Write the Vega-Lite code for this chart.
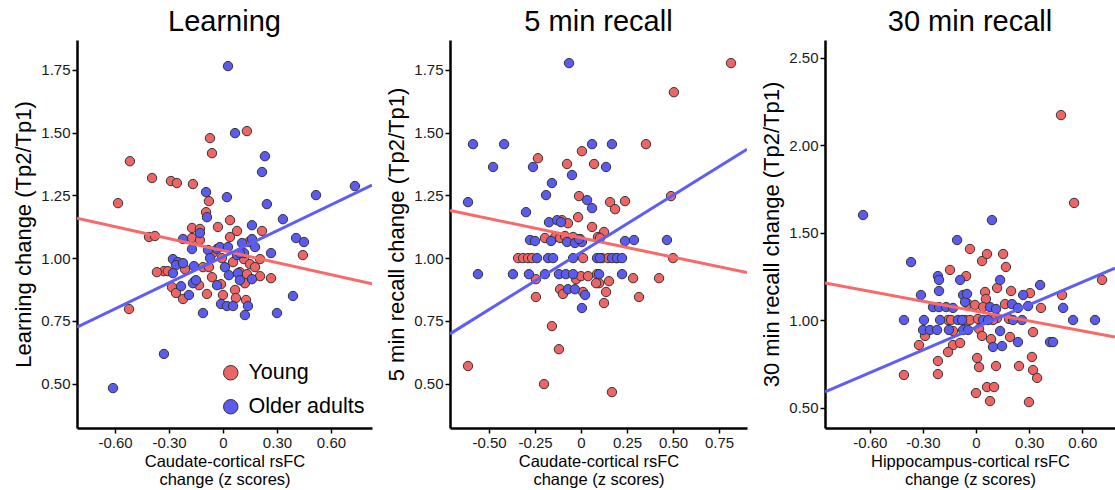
{
  "$schema": "https://vega.github.io/schema/vega-lite/v6.json",
  "autosize": {"type": "none"},
  "padding": {"left": 77, "top": 40, "right": 1038, "bottom": 450},
  "background": "white",
  "config": {
    "font": "Liberation Sans",
    "view": {"stroke": null},
    "axis": {"domainColor": "black", "domainWidth": 2.5, "tickColor": "black", "tickWidth": 1.5, "tickSize": 5, "labelColor": "#1a1a1a", "labelFont": "Liberation Sans", "labelFontSize": 15, "labelPadding": 2, "titleFont": "Liberation Sans", "titleFontWeight": "normal", "titleColor": "black", "grid": false},
    "axisY": {"titleFontSize": 22, "titlePadding": 5},
    "axisX": {"titleFontSize": 16.5, "titleLineHeight": 18.5, "titlePadding": 3},
    "title": {"font": "Liberation Sans", "fontSize": 29, "fontWeight": "normal", "color": "black", "offset": 3}
  },
  "datasets": {
    "learning": [
      {"group": "Young", "x": 0.133, "y": 1.506}, {"group": "Young", "x": -0.072, "y": 1.478}, {"group": "Young", "x": -0.061, "y": 1.418}, {"group": "Young", "x": -0.517, "y": 1.386}, {"group": "Young", "x": -0.394, "y": 1.319}, {"group": "Young", "x": -0.289, "y": 1.307}, {"group": "Young", "x": -0.256, "y": 1.299}, {"group": "Young", "x": -0.167, "y": 1.295}, {"group": "Young", "x": -0.583, "y": 1.219}, {"group": "Young", "x": -0.078, "y": 1.227}, {"group": "Young", "x": -0.094, "y": 1.183}, {"group": "Young", "x": 0.039, "y": 1.151}, {"group": "Young", "x": -0.028, "y": 1.124}, {"group": "Young", "x": -0.172, "y": 1.12}, {"group": "Young", "x": -0.128, "y": 1.116}, {"group": "Young", "x": 0.078, "y": 1.108}, {"group": "Young", "x": 0.217, "y": 1.108}, {"group": "Young", "x": -0.411, "y": 1.084}, {"group": "Young", "x": -0.378, "y": 1.088}, {"group": "Young", "x": 0.039, "y": 1.084}, {"group": "Young", "x": -0.172, "y": 1.08}, {"group": "Young", "x": -0.128, "y": 1.072}, {"group": "Young", "x": 0.144, "y": 1.064}, {"group": "Young", "x": -0.056, "y": 1.02}, {"group": "Young", "x": 0.444, "y": 1.012}, {"group": "Young", "x": -0.006, "y": 1.0}, {"group": "Young", "x": 0.056, "y": 0.984}, {"group": "Young", "x": 0.117, "y": 0.996}, {"group": "Young", "x": 0.206, "y": 0.996}, {"group": "Young", "x": -0.328, "y": 0.948}, {"group": "Young", "x": -0.306, "y": 0.948}, {"group": "Young", "x": -0.211, "y": 0.956}, {"group": "Young", "x": -0.111, "y": 0.964}, {"group": "Young", "x": -0.078, "y": 0.964}, {"group": "Young", "x": 0.15, "y": 0.976}, {"group": "Young", "x": 0.178, "y": 0.964}, {"group": "Young", "x": 0.094, "y": 0.944}, {"group": "Young", "x": 0.133, "y": 0.936}, {"group": "Young", "x": 0.206, "y": 0.928}, {"group": "Young", "x": 0.267, "y": 0.92}, {"group": "Young", "x": -0.061, "y": 0.924}, {"group": "Young", "x": -0.156, "y": 0.908}, {"group": "Young", "x": -0.133, "y": 0.892}, {"group": "Young", "x": -0.011, "y": 0.896}, {"group": "Young", "x": 0.122, "y": 0.9}, {"group": "Young", "x": -0.283, "y": 0.884}, {"group": "Young", "x": -0.261, "y": 0.861}, {"group": "Young", "x": -0.089, "y": 0.857}, {"group": "Young", "x": 0.0, "y": 0.853}, {"group": "Young", "x": 0.067, "y": 0.873}, {"group": "Young", "x": 0.072, "y": 0.841}, {"group": "Young", "x": -0.222, "y": 0.837}, {"group": "Young", "x": 0.128, "y": 0.833}, {"group": "Young", "x": -0.522, "y": 0.797}, {"group": "Young", "x": -0.367, "y": 0.944},
      {"group": "Older adults", "x": 0.028, "y": 1.765}, {"group": "Older adults", "x": 0.067, "y": 1.498}, {"group": "Older adults", "x": 0.233, "y": 1.406}, {"group": "Older adults", "x": 0.217, "y": 1.343}, {"group": "Older adults", "x": 0.733, "y": 1.287}, {"group": "Older adults", "x": -0.094, "y": 1.263}, {"group": "Older adults", "x": 0.022, "y": 1.243}, {"group": "Older adults", "x": 0.517, "y": 1.251}, {"group": "Older adults", "x": 0.244, "y": 1.215}, {"group": "Older adults", "x": -0.089, "y": 1.163}, {"group": "Older adults", "x": 0.333, "y": 1.155}, {"group": "Older adults", "x": 0.161, "y": 1.131}, {"group": "Older adults", "x": -0.222, "y": 1.076}, {"group": "Older adults", "x": -0.128, "y": 1.1}, {"group": "Older adults", "x": 0.406, "y": 1.08}, {"group": "Older adults", "x": 0.45, "y": 1.064}, {"group": "Older adults", "x": 0.161, "y": 1.076}, {"group": "Older adults", "x": 0.106, "y": 1.06}, {"group": "Older adults", "x": -0.172, "y": 1.036}, {"group": "Older adults", "x": -0.083, "y": 1.032}, {"group": "Older adults", "x": -0.033, "y": 1.036}, {"group": "Older adults", "x": -0.017, "y": 1.044}, {"group": "Older adults", "x": 0.028, "y": 1.044}, {"group": "Older adults", "x": 0.078, "y": 1.012}, {"group": "Older adults", "x": 0.117, "y": 1.02}, {"group": "Older adults", "x": 0.178, "y": 1.044}, {"group": "Older adults", "x": 0.267, "y": 1.02}, {"group": "Older adults", "x": 0.094, "y": 1.02}, {"group": "Older adults", "x": -0.278, "y": 0.996}, {"group": "Older adults", "x": -0.25, "y": 0.984}, {"group": "Older adults", "x": -0.072, "y": 1.0}, {"group": "Older adults", "x": -0.261, "y": 0.972}, {"group": "Older adults", "x": -0.278, "y": 0.94}, {"group": "Older adults", "x": -0.161, "y": 0.968}, {"group": "Older adults", "x": 0.011, "y": 0.964}, {"group": "Older adults", "x": 0.033, "y": 0.932}, {"group": "Older adults", "x": 0.083, "y": 0.94}, {"group": "Older adults", "x": 0.161, "y": 0.916}, {"group": "Older adults", "x": -0.167, "y": 0.9}, {"group": "Older adults", "x": -0.15, "y": 0.912}, {"group": "Older adults", "x": -0.033, "y": 0.892}, {"group": "Older adults", "x": 0.094, "y": 0.912}, {"group": "Older adults", "x": -0.233, "y": 0.888}, {"group": "Older adults", "x": -0.189, "y": 0.853}, {"group": "Older adults", "x": -0.011, "y": 0.817}, {"group": "Older adults", "x": 0.022, "y": 0.809}, {"group": "Older adults", "x": 0.056, "y": 0.809}, {"group": "Older adults", "x": 0.139, "y": 0.809}, {"group": "Older adults", "x": 0.389, "y": 0.849}, {"group": "Older adults", "x": -0.111, "y": 0.781}, {"group": "Older adults", "x": 0.122, "y": 0.773}, {"group": "Older adults", "x": 0.3, "y": 0.781}, {"group": "Older adults", "x": -0.328, "y": 0.618}, {"group": "Older adults", "x": -0.611, "y": 0.482}, {"group": "Older adults", "x": -0.222, "y": 0.98}
    ],
    "recall5": [
      {"group": "Young", "x": 0.815, "y": 1.777}, {"group": "Young", "x": 0.505, "y": 1.661}, {"group": "Young", "x": 0.353, "y": 1.454}, {"group": "Young", "x": 0.005, "y": 1.426}, {"group": "Young", "x": -0.234, "y": 1.398}, {"group": "Young", "x": -0.076, "y": 1.375}, {"group": "Young", "x": 0.071, "y": 1.375}, {"group": "Young", "x": -0.011, "y": 1.247}, {"group": "Young", "x": 0.158, "y": 1.223}, {"group": "Young", "x": 0.185, "y": 1.195}, {"group": "Young", "x": 0.239, "y": 1.227}, {"group": "Young", "x": 0.489, "y": 1.247}, {"group": "Young", "x": -0.016, "y": 1.163}, {"group": "Young", "x": -0.103, "y": 1.151}, {"group": "Young", "x": -0.071, "y": 1.139}, {"group": "Young", "x": 0.06, "y": 1.124}, {"group": "Young", "x": 0.125, "y": 1.104}, {"group": "Young", "x": 0.092, "y": 1.084}, {"group": "Young", "x": -0.196, "y": 1.08}, {"group": "Young", "x": -0.141, "y": 1.084}, {"group": "Young", "x": -0.114, "y": 1.08}, {"group": "Young", "x": -0.087, "y": 1.088}, {"group": "Young", "x": -0.043, "y": 1.084}, {"group": "Young", "x": -0.005, "y": 1.076}, {"group": "Young", "x": 0.103, "y": 1.08}, {"group": "Young", "x": -0.342, "y": 1.0}, {"group": "Young", "x": -0.315, "y": 1.0}, {"group": "Young", "x": -0.288, "y": 1.0}, {"group": "Young", "x": -0.266, "y": 1.0}, {"group": "Young", "x": 0.011, "y": 1.0}, {"group": "Young", "x": 0.114, "y": 1.0}, {"group": "Young", "x": 0.147, "y": 1.0}, {"group": "Young", "x": 0.19, "y": 1.0}, {"group": "Young", "x": 0.5, "y": 1.0}, {"group": "Young", "x": -0.245, "y": 0.916}, {"group": "Young", "x": -0.027, "y": 0.916}, {"group": "Young", "x": 0.0, "y": 0.928}, {"group": "Young", "x": 0.038, "y": 0.928}, {"group": "Young", "x": 0.087, "y": 0.936}, {"group": "Young", "x": 0.098, "y": 0.9}, {"group": "Young", "x": 0.152, "y": 0.908}, {"group": "Young", "x": 0.283, "y": 0.92}, {"group": "Young", "x": 0.424, "y": 0.92}, {"group": "Young", "x": -0.114, "y": 0.876}, {"group": "Young", "x": -0.098, "y": 0.857}, {"group": "Young", "x": 0.011, "y": 0.865}, {"group": "Young", "x": 0.136, "y": 0.865}, {"group": "Young", "x": -0.245, "y": 0.845}, {"group": "Young", "x": 0.125, "y": 0.821}, {"group": "Young", "x": 0.315, "y": 0.845}, {"group": "Young", "x": -0.158, "y": 0.729}, {"group": "Young", "x": -0.12, "y": 0.637}, {"group": "Young", "x": -0.614, "y": 0.57}, {"group": "Young", "x": -0.201, "y": 0.498}, {"group": "Young", "x": 0.168, "y": 0.466}, {"group": "Young", "x": 0.082, "y": 0.9},
      {"group": "Older adults", "x": -0.065, "y": 1.777}, {"group": "Older adults", "x": -0.587, "y": 1.454}, {"group": "Older adults", "x": -0.418, "y": 1.454}, {"group": "Older adults", "x": 0.06, "y": 1.454}, {"group": "Older adults", "x": 0.168, "y": 1.454}, {"group": "Older adults", "x": -0.478, "y": 1.363}, {"group": "Older adults", "x": -0.261, "y": 1.363}, {"group": "Older adults", "x": 0.136, "y": 1.363}, {"group": "Older adults", "x": -0.049, "y": 1.331}, {"group": "Older adults", "x": -0.158, "y": 1.299}, {"group": "Older adults", "x": -0.19, "y": 1.251}, {"group": "Older adults", "x": 0.033, "y": 1.231}, {"group": "Older adults", "x": 0.06, "y": 1.199}, {"group": "Older adults", "x": -0.614, "y": 1.223}, {"group": "Older adults", "x": -0.299, "y": 1.183}, {"group": "Older adults", "x": -0.174, "y": 1.143}, {"group": "Older adults", "x": -0.13, "y": 1.151}, {"group": "Older adults", "x": -0.109, "y": 1.143}, {"group": "Older adults", "x": -0.277, "y": 1.072}, {"group": "Older adults", "x": -0.25, "y": 1.068}, {"group": "Older adults", "x": -0.163, "y": 1.068}, {"group": "Older adults", "x": -0.076, "y": 1.064}, {"group": "Older adults", "x": -0.033, "y": 1.06}, {"group": "Older adults", "x": 0.005, "y": 1.064}, {"group": "Older adults", "x": 0.239, "y": 1.068}, {"group": "Older adults", "x": 0.288, "y": 1.072}, {"group": "Older adults", "x": 0.467, "y": 1.072}, {"group": "Older adults", "x": -0.239, "y": 1.0}, {"group": "Older adults", "x": -0.179, "y": 1.0}, {"group": "Older adults", "x": -0.152, "y": 1.0}, {"group": "Older adults", "x": -0.043, "y": 1.0}, {"group": "Older adults", "x": 0.087, "y": 1.0}, {"group": "Older adults", "x": 0.103, "y": 1.0}, {"group": "Older adults", "x": 0.168, "y": 1.0}, {"group": "Older adults", "x": 0.196, "y": 1.0}, {"group": "Older adults", "x": 0.223, "y": 1.0}, {"group": "Older adults", "x": -0.56, "y": 0.936}, {"group": "Older adults", "x": -0.37, "y": 0.936}, {"group": "Older adults", "x": -0.283, "y": 0.936}, {"group": "Older adults", "x": -0.196, "y": 0.936}, {"group": "Older adults", "x": -0.12, "y": 0.936}, {"group": "Older adults", "x": -0.082, "y": 0.936}, {"group": "Older adults", "x": -0.043, "y": 0.936}, {"group": "Older adults", "x": 0.098, "y": 0.936}, {"group": "Older adults", "x": 0.223, "y": 0.936}, {"group": "Older adults", "x": -0.071, "y": 0.876}, {"group": "Older adults", "x": -0.033, "y": 0.876}, {"group": "Older adults", "x": 0.022, "y": 0.853}, {"group": "Older adults", "x": 0.005, "y": 0.801}, {"group": "Older adults", "x": -0.011, "y": 1.076}
    ],
    "recall30": [
      {"group": "Young", "x": 0.48, "y": 2.171}, {"group": "Young", "x": 0.554, "y": 1.669}, {"group": "Young", "x": -0.034, "y": 1.406}, {"group": "Young", "x": 0.034, "y": 1.337}, {"group": "Young", "x": 0.062, "y": 1.377}, {"group": "Young", "x": 0.153, "y": 1.377}, {"group": "Young", "x": 0.169, "y": 1.303}, {"group": "Young", "x": -0.147, "y": 1.286}, {"group": "Young", "x": -0.056, "y": 1.251}, {"group": "Young", "x": 0.712, "y": 1.229}, {"group": "Young", "x": 0.119, "y": 1.183}, {"group": "Young", "x": 0.198, "y": 1.166}, {"group": "Young", "x": 0.051, "y": 1.16}, {"group": "Young", "x": 0.056, "y": 1.12}, {"group": "Young", "x": 0.305, "y": 1.154}, {"group": "Young", "x": 0.486, "y": 1.143}, {"group": "Young", "x": 0.164, "y": 1.091}, {"group": "Young", "x": -0.045, "y": 1.091}, {"group": "Young", "x": -0.006, "y": 1.086}, {"group": "Young", "x": 0.04, "y": 1.074}, {"group": "Young", "x": 0.367, "y": 1.069}, {"group": "Young", "x": -0.158, "y": 1.0}, {"group": "Young", "x": -0.141, "y": 1.0}, {"group": "Young", "x": -0.062, "y": 1.0}, {"group": "Young", "x": -0.034, "y": 1.0}, {"group": "Young", "x": 0.119, "y": 1.011}, {"group": "Young", "x": 0.186, "y": 1.006}, {"group": "Young", "x": -0.13, "y": 0.937}, {"group": "Young", "x": 0.017, "y": 0.949}, {"group": "Young", "x": -0.288, "y": 0.909}, {"group": "Young", "x": 0.034, "y": 0.909}, {"group": "Young", "x": 0.085, "y": 0.891}, {"group": "Young", "x": 0.192, "y": 0.903}, {"group": "Young", "x": 0.322, "y": 0.931}, {"group": "Young", "x": -0.322, "y": 0.857}, {"group": "Young", "x": -0.13, "y": 0.857}, {"group": "Young", "x": -0.09, "y": 0.869}, {"group": "Young", "x": -0.158, "y": 0.817}, {"group": "Young", "x": -0.215, "y": 0.766}, {"group": "Young", "x": -0.215, "y": 0.691}, {"group": "Young", "x": -0.407, "y": 0.686}, {"group": "Young", "x": 0.006, "y": 0.783}, {"group": "Young", "x": 0.017, "y": 0.731}, {"group": "Young", "x": 0.113, "y": 0.737}, {"group": "Young", "x": 0.243, "y": 0.737}, {"group": "Young", "x": 0.316, "y": 0.789}, {"group": "Young", "x": 0.322, "y": 0.714}, {"group": "Young", "x": 0.345, "y": 0.669}, {"group": "Young", "x": 0.062, "y": 0.617}, {"group": "Young", "x": 0.102, "y": 0.617}, {"group": "Young", "x": 0.0, "y": 0.583}, {"group": "Young", "x": 0.079, "y": 0.537}, {"group": "Young", "x": 0.299, "y": 0.531}, {"group": "Young", "x": 0.096, "y": 1.0}, {"group": "Young", "x": 0.011, "y": 1.006},
      {"group": "Older adults", "x": -0.638, "y": 1.6}, {"group": "Older adults", "x": 0.09, "y": 1.571}, {"group": "Older adults", "x": -0.107, "y": 1.457}, {"group": "Older adults", "x": -0.367, "y": 1.331}, {"group": "Older adults", "x": -0.215, "y": 1.251}, {"group": "Older adults", "x": -0.209, "y": 1.229}, {"group": "Older adults", "x": -0.09, "y": 1.229}, {"group": "Older adults", "x": 0.136, "y": 1.229}, {"group": "Older adults", "x": 0.362, "y": 1.2}, {"group": "Older adults", "x": -0.311, "y": 1.143}, {"group": "Older adults", "x": -0.209, "y": 1.166}, {"group": "Older adults", "x": -0.073, "y": 1.143}, {"group": "Older adults", "x": 0.266, "y": 1.143}, {"group": "Older adults", "x": -0.243, "y": 1.074}, {"group": "Older adults", "x": -0.209, "y": 1.074}, {"group": "Older adults", "x": -0.169, "y": 1.074}, {"group": "Older adults", "x": -0.13, "y": 1.069}, {"group": "Older adults", "x": -0.062, "y": 1.103}, {"group": "Older adults", "x": 0.079, "y": 1.074}, {"group": "Older adults", "x": 0.113, "y": 1.063}, {"group": "Older adults", "x": 0.203, "y": 1.091}, {"group": "Older adults", "x": 0.237, "y": 1.069}, {"group": "Older adults", "x": 0.294, "y": 1.08}, {"group": "Older adults", "x": 0.492, "y": 1.069}, {"group": "Older adults", "x": -0.407, "y": 1.0}, {"group": "Older adults", "x": -0.294, "y": 1.0}, {"group": "Older adults", "x": -0.203, "y": 1.0}, {"group": "Older adults", "x": -0.102, "y": 1.0}, {"group": "Older adults", "x": -0.079, "y": 1.0}, {"group": "Older adults", "x": 0.04, "y": 1.0}, {"group": "Older adults", "x": 0.068, "y": 1.0}, {"group": "Older adults", "x": 0.209, "y": 1.0}, {"group": "Older adults", "x": 0.26, "y": 1.0}, {"group": "Older adults", "x": 0.548, "y": 1.0}, {"group": "Older adults", "x": 0.672, "y": 1.0}, {"group": "Older adults", "x": -0.299, "y": 0.943}, {"group": "Older adults", "x": -0.26, "y": 0.943}, {"group": "Older adults", "x": -0.22, "y": 0.943}, {"group": "Older adults", "x": -0.153, "y": 0.943}, {"group": "Older adults", "x": -0.073, "y": 0.943}, {"group": "Older adults", "x": -0.045, "y": 0.943}, {"group": "Older adults", "x": 0.136, "y": 0.937}, {"group": "Older adults", "x": 0.237, "y": 0.874}, {"group": "Older adults", "x": 0.418, "y": 0.874}, {"group": "Older adults", "x": 0.435, "y": 0.874}, {"group": "Older adults", "x": 0.096, "y": 0.846}, {"group": "Older adults", "x": 0.147, "y": 0.851}, {"group": "Older adults", "x": -0.051, "y": 1.149}
    ],
    "fits": [
      {"panel": "learning", "group": "Young", "x": -0.811, "y": 1.159}, {"panel": "learning", "group": "Young", "x": 0.828, "y": 0.898},
      {"panel": "learning", "group": "Older adults", "x": -0.811, "y": 0.725}, {"panel": "learning", "group": "Older adults", "x": 0.828, "y": 1.291},
      {"panel": "recall5", "group": "Young", "x": -0.712, "y": 1.19}, {"panel": "recall5", "group": "Young", "x": 0.902, "y": 0.942},
      {"panel": "recall5", "group": "Older adults", "x": -0.712, "y": 0.698}, {"panel": "recall5", "group": "Older adults", "x": 0.902, "y": 1.434},
      {"panel": "recall30", "group": "Young", "x": -0.853, "y": 1.211}, {"panel": "recall30", "group": "Young", "x": 0.785, "y": 0.903},
      {"panel": "recall30", "group": "Older adults", "x": -0.853, "y": 0.589}, {"panel": "recall30", "group": "Older adults", "x": 0.785, "y": 1.297}
    ]
  },
  "spacing": 78,
  "bounds": "flush",
  "resolve": {"legend": {"fill": "independent"}},
  "hconcat": [
    {
      "width": 295, "height": 388,
      "title": "Learning",
      "layer": [
        {
          "data": {"name": "learning"},
          "mark": {"type": "circle", "size": 88, "opacity": 1, "stroke": "#333333", "strokeWidth": 1},
          "encoding": {
            "x": {"field": "x", "type": "quantitative", "scale": {"domain": [-0.811, 0.828], "nice": false, "zero": false},
                  "axis": {"values": [-0.6, -0.3, 0, 0.3, 0.6], "labelExpr": "datum.value == 0 ? '0' : (datum.value < 0 ? '-' : '') + format(abs(datum.value), '.2f')", "title": ["Caudate-cortical rsFC", "change (z scores)"]}},
            "y": {"field": "y", "type": "quantitative", "scale": {"domain": [0.323, 1.869], "nice": false, "zero": false},
                  "axis": {"values": [0.5, 0.75, 1, 1.25, 1.5, 1.75], "format": ".2f", "title": "Learning change (Tp2/Tp1)"}},
            "fill": {"field": "group", "type": "nominal", "scale": {"domain": ["Young", "Older adults"], "range": ["#EF6464", "#5B5BEF"]},
                     "legend": {"orient": "none", "legendX": 143, "legendY": 322, "title": null, "padding": 0, "labelFont": "Liberation Sans", "labelFontSize": 21.5, "labelColor": "black", "labelOffset": 7, "rowPadding": 11, "symbolType": "circle", "symbolSize": 210, "symbolStrokeColor": "#333333", "symbolStrokeWidth": 1, "symbolOpacity": 1}}
          }
        },
        {
          "data": {"name": "fits"},
          "transform": [{"filter": "datum.panel == 'learning'"}],
          "mark": {"type": "line", "strokeWidth": 3, "clip": true},
          "encoding": {
            "x": {"field": "x", "type": "quantitative"},
            "y": {"field": "y", "type": "quantitative"},
            "stroke": {"field": "group", "type": "nominal", "scale": {"domain": ["Young", "Older adults"], "range": ["#F86A6A", "#5D5DF8"]}, "legend": null}
          }
        }
      ]
    },
    {
      "width": 297, "height": 388,
      "title": "5 min recall",
      "layer": [
        {
          "data": {"name": "recall5"},
          "mark": {"type": "circle", "size": 88, "opacity": 1, "stroke": "#333333", "strokeWidth": 1},
          "encoding": {
            "x": {"field": "x", "type": "quantitative", "scale": {"domain": [-0.712, 0.902], "nice": false, "zero": false},
                  "axis": {"values": [-0.5, -0.25, 0, 0.25, 0.5, 0.75], "labelExpr": "datum.value == 0 ? '0' : (datum.value < 0 ? '-' : '') + format(abs(datum.value), '.2f')", "title": ["Caudate-cortical rsFC", "change (z scores)"]}},
            "y": {"field": "y", "type": "quantitative", "scale": {"domain": [0.323, 1.869], "nice": false, "zero": false},
                  "axis": {"values": [0.5, 0.75, 1, 1.25, 1.5, 1.75], "format": ".2f", "title": "5 min recall change (Tp2/Tp1)"}},
            "fill": {"field": "group", "type": "nominal", "scale": {"domain": ["Young", "Older adults"], "range": ["#EF6464", "#5B5BEF"]}, "legend": null}
          }
        },
        {
          "data": {"name": "fits"},
          "transform": [{"filter": "datum.panel == 'recall5'"}],
          "mark": {"type": "line", "strokeWidth": 3, "clip": true},
          "encoding": {
            "x": {"field": "x", "type": "quantitative"},
            "y": {"field": "y", "type": "quantitative"},
            "stroke": {"field": "group", "type": "nominal", "scale": {"domain": ["Young", "Older adults"], "range": ["#F86A6A", "#5D5DF8"]}, "legend": null}
          }
        }
      ]
    },
    {
      "width": 290, "height": 388,
      "title": "30 min recall",
      "layer": [
        {
          "data": {"name": "recall30"},
          "mark": {"type": "circle", "size": 88, "opacity": 1, "stroke": "#333333", "strokeWidth": 1},
          "encoding": {
            "x": {"field": "x", "type": "quantitative", "scale": {"domain": [-0.853, 0.785], "nice": false, "zero": false},
                  "axis": {"values": [-0.6, -0.3, 0, 0.3, 0.6], "labelExpr": "datum.value == 0 ? '0' : (datum.value < 0 ? '-' : '') + format(abs(datum.value), '.2f')", "title": ["Hippocampus-cortical rsFC", "change (z scores)"]}},
            "y": {"field": "y", "type": "quantitative", "scale": {"domain": [0.383, 2.6], "nice": false, "zero": false},
                  "axis": {"values": [0.5, 1, 1.5, 2, 2.5], "format": ".2f", "title": "30 min recall change (Tp2/Tp1)"}},
            "fill": {"field": "group", "type": "nominal", "scale": {"domain": ["Young", "Older adults"], "range": ["#EF6464", "#5B5BEF"]}, "legend": null}
          }
        },
        {
          "data": {"name": "fits"},
          "transform": [{"filter": "datum.panel == 'recall30'"}],
          "mark": {"type": "line", "strokeWidth": 3, "clip": true},
          "encoding": {
            "x": {"field": "x", "type": "quantitative"},
            "y": {"field": "y", "type": "quantitative"},
            "stroke": {"field": "group", "type": "nominal", "scale": {"domain": ["Young", "Older adults"], "range": ["#F86A6A", "#5D5DF8"]}, "legend": null}
          }
        }
      ]
    }
  ]
}
